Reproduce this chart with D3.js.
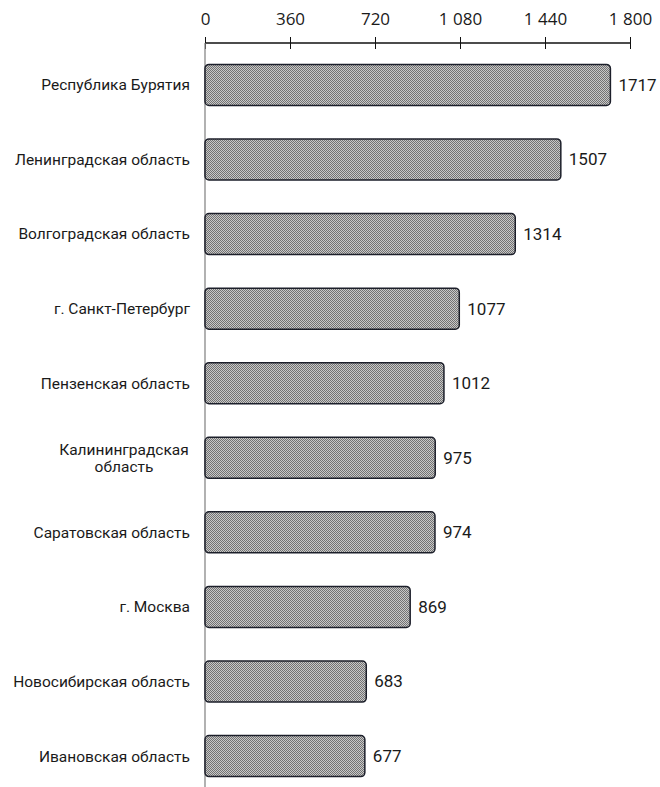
<!DOCTYPE html>
<html>
<head>
<meta charset="utf-8">
<style>
  body { margin: 0; background: #fff; }
  svg text { font-family: Roboto, "Liberation Sans", sans-serif; fill: #1a1a1a; }
</style>
</head>
<body>
<div id="chart"></div>
<script src="https://cdn.jsdelivr.net/npm/d3@7/dist/d3.min.js"></script>
<script>
// regions and their values (top to bottom)
var regions = ["Республика Бурятия", "Ленинградская область", "Волгоградская область",
  "г. Санкт-Петербург", "Пензенская область", "Калининградская область",
  "Саратовская область", "г. Москва", "Новосибирская область", "Ивановская область"];
var values = [1717, 1507, 1314, 1077, 1012, 975, 974, 869, 683, 677];
var tickValues = [0, 360, 720, 1080, 1440, 1800];
var tickLabels = ["0", "360", "720", "1 080", "1 440", "1 800"];

var W = 660, H = 787;
var margin = {top: 43, left: 205};

var svg = d3.select("#chart").append("svg")
  .attr("width", W).attr("height", H);

// checker fill like the original
var defs = svg.append("defs");
var pat = defs.append("pattern")
  .attr("id", "checker")
  .attr("patternUnits", "userSpaceOnUse")
  .attr("width", 2).attr("height", 2);
pat.append("rect").attr("width", 2).attr("height", 2).attr("fill", "#c8c8c8");
pat.append("rect").attr("width", 1).attr("height", 1).attr("fill", "#727272");
pat.append("rect").attr("x", 1).attr("y", 1).attr("width", 1).attr("height", 1).attr("fill", "#727272");

var x = d3.scaleLinear().domain([0, 1800]).range([margin.left, 630]);
var y = d3.scaleBand().domain(regions).range([margin.top + 5, 793]).paddingInner(0.45).paddingOuter(0.22);

// top axis
var xAxis = svg.append("g")
  .attr("transform", "translate(0," + margin.top + ")")
  .call(d3.axisTop(x).tickValues(tickValues).tickSize(6)
    .tickFormat(function(d, i) { return tickLabels[i]; }));
xAxis.select(".domain").attr("stroke", "#111").attr("stroke-width", 1.5).attr("d", "M" + x(0) + ",0H" + x(1800));
xAxis.selectAll(".tick line").attr("stroke", "#111").attr("y1", 6).attr("y2", -6);
xAxis.selectAll(".tick text").attr("font-size", 17).attr("y", -18)
  .style("font-family", "'Open Sans', 'DejaVu Sans', sans-serif");

// vertical category axis line
svg.append("line")
  .attr("x1", x(0)).attr("x2", x(0))
  .attr("y1", margin.top).attr("y2", H)
  .attr("stroke", "#888").attr("stroke-width", 1.3);

// bars
svg.selectAll("rect.bar")
  .data(values)
  .enter().append("rect")
  .attr("class", "bar")
  .attr("x", x(0))
  .attr("y", function(d, i) { return y(regions[i]); })
  .attr("width", function(d) { return x(d) - x(0); })
  .attr("height", y.bandwidth())
  .attr("rx", 4).attr("ry", 4)
  .attr("fill", "url(#checker)")
  .attr("stroke", "#1c1f2a")
  .attr("stroke-width", 1.5);

// value labels
svg.selectAll("text.val")
  .data(values)
  .enter().append("text")
  .attr("class", "val")
  .attr("x", function(d) { return x(d) + 8; })
  .attr("y", function(d, i) { return y(regions[i]) + y.bandwidth() / 2; })
  .attr("dy", "0.35em")
  .attr("font-size", 17)
  .text(function(d) { return d; });

// category labels, long one wraps in two lines
var wrapped = {"Калининградская область": ["Калининградская", "область"]};
regions.forEach(function(r) {
  var lines = wrapped[r] || [r];
  var cy = y(r) + y.bandwidth() / 2;
  var t = svg.append("text")
    .attr("text-anchor", lines.length > 1 ? "middle" : "end")
    .attr("font-size", 15.5);
  lines.forEach(function(l, j) {
    t.append("tspan")
      .attr("x", lines.length > 1 ? 124 : 190)
      .attr("y", cy + (j - (lines.length - 1) / 2) * 17)
      .attr("dy", "0.35em")
      .text(l);
  });
});
</script>
</body>
</html>
